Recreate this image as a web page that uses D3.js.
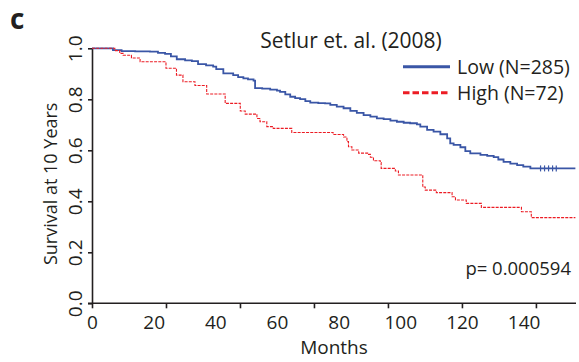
<!DOCTYPE html>
<html>
<head>
<meta charset="utf-8">
<script src="https://cdn.jsdelivr.net/npm/d3@7"></script>
<style>
  body { margin: 0; background: #fff; }
  svg text { font-family: "Open Sans", "Noto Sans", sans-serif; fill: #231f20; }
</style>
</head>
<body>
<svg id="chart" width="579" height="362"></svg>
<script>
// Kaplan-Meier steps (months, survival)
const lowMonths = [0, 6.8, 9.6, 14.0, 18.8, 21.4, 23.7, 25.6, 27.5, 30.2, 32.4, 34.4, 37.0, 39.3, 40.3, 42.6,
  45.8, 47.4, 49.1, 50.6, 52.4, 52.9, 55.2, 57.8, 60.0, 61.0, 62.7, 64.3, 65.9, 67.5, 69.2, 70.8, 73.4, 75.6,
  77.3, 79.4, 81.6, 83.8, 85.9, 88.1, 90.3, 92.4, 94.6, 96.8, 98.9, 101.1, 103.2, 105.4, 106.5, 108.7, 110.8,
  113.0, 115.2, 116.2, 117.3, 119.5, 121.1, 122.7, 126.0, 128.2, 130.3, 131.8, 133.5, 135.7, 137.9, 139.9, 142.2];
const lowSurv = [1.0, 0.993, 0.989, 0.988, 0.987, 0.982, 0.978, 0.968, 0.957, 0.953, 0.950, 0.938, 0.933, 0.928, 0.918, 0.902,
  0.895, 0.887, 0.882, 0.878, 0.873, 0.844, 0.842, 0.838, 0.834, 0.829, 0.819, 0.810, 0.805, 0.801, 0.793, 0.787, 0.785, 0.784,
  0.778, 0.771, 0.765, 0.755, 0.747, 0.738, 0.732, 0.725, 0.722, 0.716, 0.712, 0.708, 0.706, 0.702, 0.693, 0.680, 0.673,
  0.663, 0.647, 0.627, 0.621, 0.612, 0.597, 0.588, 0.582, 0.578, 0.573, 0.564, 0.555, 0.548, 0.542, 0.536, 0.529];
const lowCensor = [145.5, 146.8, 148.1, 149.4, 150.6];

const highMonths = [0, 7.4, 9.0, 10.1, 12.8, 15.6, 24.0, 27.4, 29.5, 33.4, 37.2, 43.2, 48.1, 49.7, 53.5, 54.5, 56.7,
  58.8, 64.8, 78.2, 81.6, 82.7, 83.2, 84.3, 86.5, 89.7, 90.3, 91.3, 93.5, 93.8, 98.4, 99.4, 107.3, 108.1, 111.7,
  116.8, 117.9, 121.4, 126.3, 139.3, 142.5];
const highSurv = [1.0, 0.991, 0.980, 0.973, 0.962, 0.947, 0.922, 0.895, 0.869, 0.854, 0.821, 0.784, 0.754, 0.742, 0.725, 0.712, 0.693,
  0.686, 0.670, 0.662, 0.652, 0.634, 0.614, 0.601, 0.589, 0.584, 0.573, 0.559, 0.552, 0.529, 0.519, 0.503, 0.456, 0.444, 0.434,
  0.418, 0.405, 0.392, 0.376, 0.359, 0.336];

const lastMonth = 156.8;
const xTickLabels = [0, 20, 40, 60, 80, 100, 120, 140];
const xTickMarks = [0, 24, 48, 72, 96, 120, 144]; // tick marks in the figure sit apart from the labels
const yTicks = [0, 0.2, 0.4, 0.6, 0.8, 1.0];

const groups = ['Low (N=285)', 'High (N=72)'];
const blue = '#3a56a6';
const red = '#ec1c24';

const svg = d3.select('#chart');

const x = d3.scaleLinear().domain([0, 157]).range([92, 576]);
const y = d3.scaleLinear().domain([0, 1]).range([303.3, 48.3]);

// axes
const xMarks = svg.append('g')
  .attr('transform', `translate(0,${y(0)})`)
  .call(d3.axisBottom(x).tickValues(xTickMarks).tickSize(5).tickFormat('').tickSizeOuter(0));
xMarks.select('.domain').attr('d', `M88,0H${x(157)}`);
xMarks.selectAll('path, line').attr('stroke', '#231f20').attr('stroke-width', 1.6);

svg.append('g')
  .attr('transform', `translate(0,${y(0)})`)
  .call(d3.axisBottom(x).tickValues(xTickLabels).tickSize(0))
  .call(g => g.select('.domain').remove())
  .selectAll('text')
    .attr('font-size', 19)
    .attr('y', 26)
    .attr('dy', 0)
    .attr('fill', '#231f20');

const yAxis = svg.append('g')
  .attr('transform', `translate(${x(0)},0)`)
  .call(d3.axisLeft(y).tickValues(yTicks).tickSize(4).tickFormat(d3.format('.1f')).tickSizeOuter(0));
yAxis.selectAll('path, line').attr('stroke', '#231f20').attr('stroke-width', 1.6);
yAxis.selectAll('text')
  .attr('font-size', 19)
  .attr('x', 0).attr('dy', 0)
  .attr('text-anchor', 'middle')
  .attr('transform', 'translate(-10,0) rotate(-90)')
  .attr('fill', '#231f20');

svg.append('text')
  .attr('transform', `translate(57,${(y(0) + y(1)) / 2 + 8}) rotate(-90)`)
  .attr('text-anchor', 'middle')
  .attr('font-size', 18)
  .text('Survival at 10 Years');

svg.append('text')
  .attr('x', x(78.5)).attr('y', 354)
  .attr('text-anchor', 'middle')
  .attr('font-size', 19)
  .text('Months');

// curves
const line = d3.line()
  .x(d => x(d[0]))
  .y(d => y(d[1]))
  .curve(d3.curveStepAfter);

const lowData = lowMonths.map((m, i) => [m, lowSurv[i]]);
lowData.push([lastMonth, lowSurv[lowSurv.length - 1]]);
const highData = highMonths.map((m, i) => [m, highSurv[i]]);
highData.push([lastMonth, highSurv[highSurv.length - 1]]);

svg.append('path')
  .datum(lowData)
  .attr('d', line)
  .attr('fill', 'none')
  .attr('stroke', blue)
  .attr('stroke-width', 1.8);

svg.append('path')
  .datum(highData)
  .attr('d', line)
  .attr('fill', 'none')
  .attr('stroke', red)
  .attr('stroke-width', 1.1)
  .attr('stroke-dasharray', '3,1.2');

svg.selectAll('.censor')
  .data(lowCensor)
  .enter().append('line')
    .attr('x1', d => x(d)).attr('x2', d => x(d))
    .attr('y1', y(lowSurv[lowSurv.length - 1]) - 3)
    .attr('y2', y(lowSurv[lowSurv.length - 1]) + 3)
    .attr('stroke', blue)
    .attr('stroke-width', 1.2);

// title, legend, p value
svg.append('text')
  .attr('x', 351).attr('y', 48)
  .attr('text-anchor', 'middle')
  .attr('font-size', 21)
  .text('Setlur et. al. (2008)');

const legend = svg.append('g');
groups.forEach((g, i) => {
  const ly = 66.7 + i * 26;
  legend.append('line')
    .attr('x1', 403).attr('x2', 450)
    .attr('y1', ly).attr('y2', ly)
    .attr('stroke', i === 0 ? blue : red)
    .attr('stroke-width', 3)
    .attr('stroke-dasharray', i === 0 ? null : '6.5,3');
  legend.append('text')
    .attr('x', 457).attr('y', ly + 6.8)
    .attr('font-size', 19.5)
    .text(g);
});

svg.append('text')
  .attr('x', 571).attr('y', 275)
  .attr('text-anchor', 'end')
  .attr('font-size', 18.5)
  .text('p= 0.000594');

svg.append('text')
  .attr('x', 10).attr('y', 29)
  .attr('font-family', '"Liberation Sans", Arial, sans-serif')
  .attr('font-size', 28)
  .attr('font-weight', 'bold')
  .attr('fill', '#000')
  .text('c');
</script>
</body>
</html>
